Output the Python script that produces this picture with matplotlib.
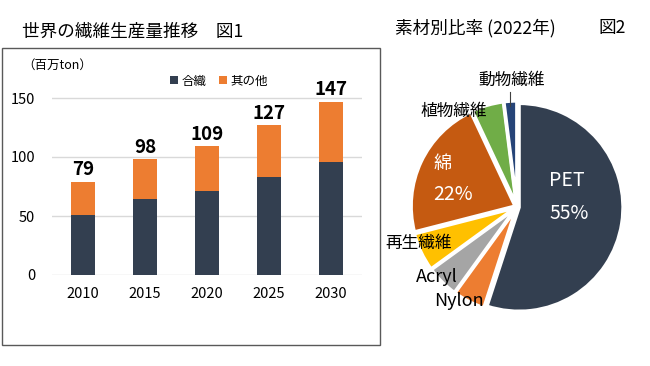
import matplotlib.pyplot as plt
import matplotlib.patches as mpatches
import numpy as np

plt.rcParams['font.family'] = ['Noto Sans CJK JP', 'DejaVu Sans']

# data
years = ['2010', '2015', '2020', '2025', '2030']
synthetic = [51, 64, 71, 83, 96]
totals = [79, 98, 109, 127, 147]
others = [t - s for t, s in zip(totals, synthetic)]

materials = ['PET', 'Nylon', 'Acryl', '再生繊維', '綿', '植物繊維', '動物繊維']
shares = [55, 5, 5, 6, 22, 5, 2]
pie_colors = ['#333f50', '#ed7d31', '#a5a5a5', '#ffc000', '#c55a11', '#70ad47', '#264478']

W, H = 650, 366
fig = plt.figure(figsize=(6.5, 3.66), dpi=100)

def fx(px):
    return px / W

def fy(py):
    return 1 - py / H

# ---- left: stacked bars ----
fig.text(fx(22), fy(32), '世界の繊維生産量推移　図1', fontsize=12.7, va='center', ha='left')
box = mpatches.Rectangle((fx(2), fy(345)), fx(378), 297 / H, transform=fig.transFigure,
                         fill=False, edgecolor='#595959', lw=1)
fig.patches.append(box)

ymax = 165
ax = fig.add_axes([fx(52), fy(275), fx(310), ymax * 1.18 / H])
x = np.arange(len(years))
ax.bar(x, synthetic, width=0.39, color='#333f50', label='合織', zorder=3)
ax.bar(x, others, width=0.39, bottom=synthetic, color='#ed7d31', label='其の他', zorder=3)
for xi, t in zip(x, totals):
    ax.text(xi, t + 2, str(t), ha='center', va='bottom', fontsize=13.5, fontweight='bold')
ax.set_xlim(-0.5, 4.5)
ax.set_ylim(0, ymax)
ax.set_yticks([0, 50, 100, 150])
ax.set_xticks(x)
ax.set_xticklabels(years)
ax.tick_params(length=0, labelsize=10.5)
ax.tick_params(axis='y', pad=12)
ax.tick_params(axis='x', pad=9)
ax.grid(axis='y', color='#d9d9d9', lw=1, zorder=0)
for s in ax.spines.values():
    s.set_visible(False)
ax.patch.set_alpha(0)
fig.text(fx(57), fy(65), '（百万ton）', fontsize=9, ha='center', va='center')
ax.legend(ncol=2, frameon=False, loc='center', bbox_to_anchor=(fx(219), fy(81)),
          bbox_transform=fig.transFigure, handlelength=0.6, handleheight=0.6,
          columnspacing=1.0, handletextpad=0.3, fontsize=9)

# ---- right: pie ----
fig.text(fx(395), fy(28), '素材別比率 (2022年)', fontsize=12.7, va='center', ha='left')
fig.text(fx(598), fy(28), '図2', fontsize=12.7, va='center', ha='left')
R = 104
cx, cy = 517, 207
pax = fig.add_axes([fx(cx - 1.3 * R), fy(cy + 1.3 * R), fx(2.6 * R), 2.6 * R / H])
pax.pie(shares, colors=pie_colors, startangle=90, counterclock=False,
        explode=[0.02] * len(shares),
        wedgeprops=dict(edgecolor='white', linewidth=2.5))
pax.set_xlim(-1.3, 1.3)
pax.set_ylim(-1.3, 1.3)
pax.set_aspect('equal')
pax.axis('off')

def d(px, py):
    return ((px - cx) / R, (cy - py) / R)

pax.text(*d(567, 180), 'PET', color='white', fontsize=14, ha='center', va='center')
pax.text(*d(569, 213), '55%', color='white', fontsize=14, ha='center', va='center')
pax.text(*d(443, 164), '綿', color='white', fontsize=13, ha='center', va='center')
pax.text(*d(453, 194), '22%', color='white', fontsize=14, ha='center', va='center')
pax.text(*d(512, 80), '動物繊維', fontsize=12, ha='center', va='center')
pax.plot(*zip(d(510, 92), d(510, 106)), color='#404040', lw=0.8)
pax.text(*d(454, 111), '植物繊維', fontsize=12, ha='center', va='center')
pax.text(*d(419, 243), '再生繊維', fontsize=12, ha='center', va='center')
pax.text(*d(437, 277), 'Acryl', fontsize=13, ha='center', va='center')
pax.text(*d(459, 301), 'Nylon', fontsize=13, ha='center', va='center')

fig.savefig('out.png', dpi=100)
